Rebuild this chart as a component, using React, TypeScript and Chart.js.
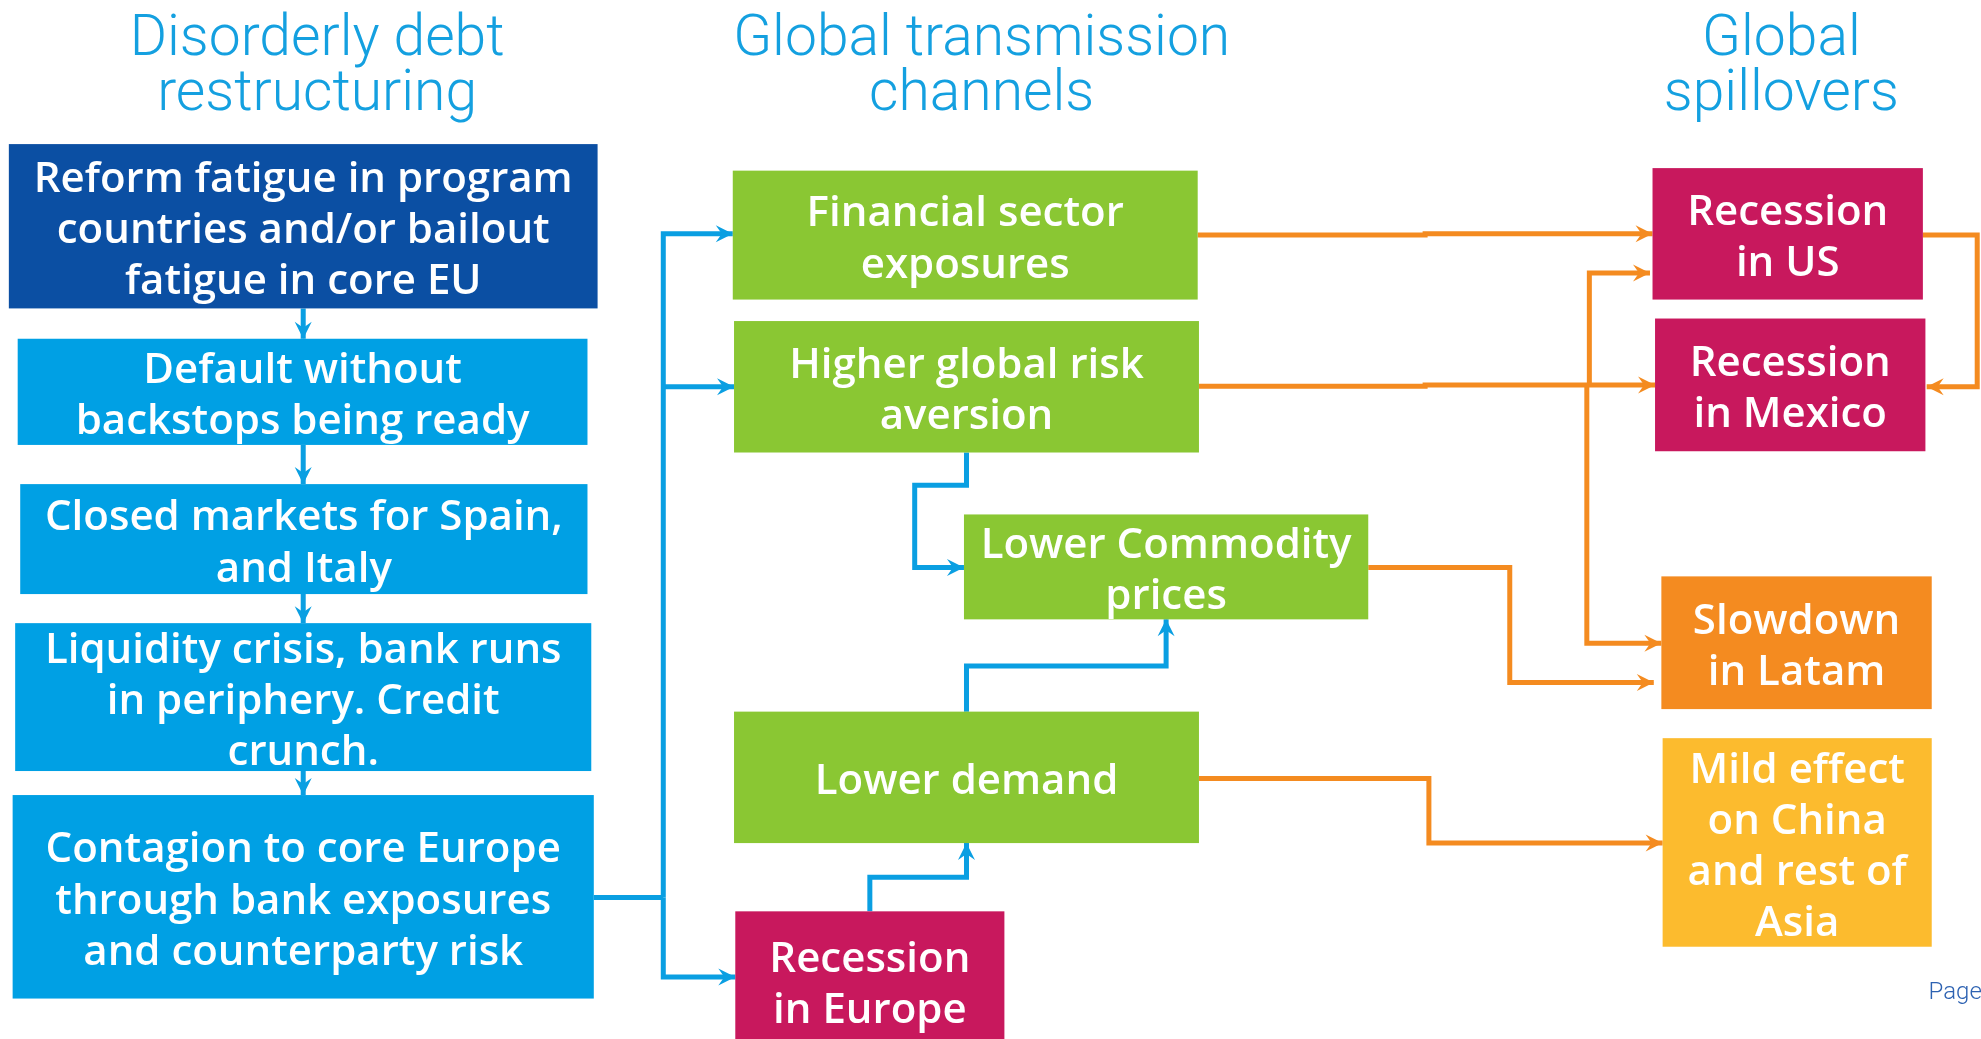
import React, { useEffect, useRef } from "react";
import { Chart, registerables } from "chart.js";

Chart.register(...registerables);

// ---- diagram space (units of the reference drawing) ----
const CANVAS_W = 1981;
const CANVAS_H = 1039;
const X_MAX = 1568;
const Y_MAX = 822;

// ---- column titles ----
const columnTitles: string[][] = [
  ["Disorderly debt", "restructuring"],
  ["Global transmission", "channels"],
  ["Global", "spillovers"],
];
const columnTitleX: number[] = [251, 777, 1410];
const titleBaselineY: number[] = [43.5, 87];

// ---- boxes ----
const boxLabels: string[][] = [
  ["Reform fatigue in program", "countries and/or bailout", "fatigue in core EU"],
  ["Default without", "backstops being ready"],
  ["Closed markets for Spain,", "and Italy"],
  ["Liquidity crisis, bank runs", "in periphery. Credit", "crunch."],
  ["Contagion to core Europe", "through bank exposures", "and counterparty risk"],
  ["Financial sector", "exposures"],
  ["Higher global risk", "aversion"],
  ["Lower Commodity", "prices"],
  ["Lower demand"],
  ["Recession", "in Europe"],
  ["Recession", "in US"],
  ["Recession", "in Mexico"],
  ["Slowdown", "in Latam"],
  ["Mild effect", "on China", "and rest of", "Asia"],
];
const boxLeft: number[] = [7, 14, 16, 12, 10, 580, 581, 763, 581, 582, 1308, 1310, 1315, 1316];
const boxRight: number[] = [473, 465, 465, 468, 470, 948, 949, 1083, 949, 795, 1522, 1524, 1529, 1529];
const boxTop: number[] = [114, 268, 383, 493, 629, 135, 254, 407, 563, 721, 133, 252, 456, 584];
const boxBottom: number[] = [244, 352, 470, 610, 790, 237, 358, 490, 667, 830, 237, 357, 561, 749];
const boxKind: string[] = [
  "trigger", "chain", "chain", "chain", "chain",
  "channel", "channel", "channel", "channel",
  "recession", "recession", "recession", "slowdown", "mild",
];

// ---- connectors (polylines in diagram units) ----
const connectorPaths: number[][][] = [
  [[240, 244], [240, 268]],
  [[240, 352], [240, 383]],
  [[240, 470], [240, 493]],
  [[240, 610], [240, 629]],
  [[470, 710], [525, 710]],
  [[525, 710], [525, 185], [580, 185]],
  [[525, 306], [581, 306]],
  [[525, 710], [525, 773], [582, 773]],
  [[765, 358], [765, 384], [724, 384], [724, 449], [763, 449]],
  [[765, 563], [765, 527], [923, 527], [923, 490]],
  [[688.5, 721], [688.5, 694], [765, 694], [765, 667]],
  [[948, 186], [1128, 186], [1128, 185], [1308, 185]],
  [[949, 305.5], [1128, 305.5], [1128, 304.5], [1310, 304.5]],
  [[1258, 305.5], [1258, 216], [1306, 216]],
  [[1256, 305.5], [1256, 509], [1315, 509]],
  [[1522, 186], [1565, 186], [1565, 306], [1525, 306]],
  [[1083, 449], [1195, 449], [1195, 540], [1309, 540]],
  [[949, 616], [1131, 616], [1131, 667], [1316, 667]],
];
const connectorKind: string[] = [
  "blue", "blue", "blue", "blue", "blue", "blue", "blue", "blue", "blue", "blue", "blue",
  "orange", "orange", "orange", "orange", "orange", "orange", "orange",
];
const connectorArrow: boolean[] = [
  true, true, true, true, false, true, true, true, true, true, true,
  true, true, true, true, true, true, true,
];

const pageLabel = "Page";

// ---- styles ----
const kindColors: Record<string, string> = {
  trigger: "#0B4FA3",
  chain: "#00A0E4",
  channel: "#8AC733",
  recession: "#C8185D",
  slowdown: "#F48B20",
  mild: "#FCBB2E",
};
const lineColors: Record<string, string> = {
  blue: "#0A9FE2",
  orange: "#F48B20",
};
const TITLE_COLOR = "#14A0E0";
const BOX_FONT_PX = 42;
const BOX_FONT = `600 ${BOX_FONT_PX}px 'Open Sans', 'Noto Sans', sans-serif`;
const TITLE_FONT = "300 57px Roboto, 'Open Sans', sans-serif";
const LINE_STEP = 40.5;

const flowPlugin = {
  id: "flowDiagram",
  afterDatasetsDraw(chart: any) {
    const { ctx } = chart;
    const xs = chart.scales.x;
    const ys = chart.scales.y;
    ctx.save();
    // boxes and their texts
    boxLabels.forEach((lines, i) => {
      const l = xs.getPixelForValue(boxLeft[i]);
      const r = xs.getPixelForValue(boxRight[i]);
      const t = ys.getPixelForValue(boxTop[i]);
      const b = ys.getPixelForValue(boxBottom[i]);
      ctx.fillStyle = kindColors[boxKind[i]];
      ctx.fillRect(l, t, r - l, b - t);
      ctx.fillStyle = "#ffffff";
      ctx.font = BOX_FONT;
      ctx.textAlign = "center";
      ctx.textBaseline = "alphabetic";
      const cx = xs.getPixelForValue((boxLeft[i] + boxRight[i]) / 2);
      const cyUnits = (boxTop[i] + boxBottom[i]) / 2 + 1.5;
      const n = lines.length;
      lines.forEach((s, j) => {
        const yy = ys.getPixelForValue(cyUnits + (j - (n - 1) / 2) * LINE_STEP);
        ctx.fillText(s, cx, yy + 0.357 * BOX_FONT_PX);
      });
    });
    // arrowheads
    chart.data.datasets.forEach((_ds: any, i: number) => {
      if (!connectorArrow[i]) return;
      const pts = chart.getDatasetMeta(i).data;
      const a = pts[pts.length - 2];
      const e = pts[pts.length - 1];
      const ang = Math.atan2(e.y - a.y, e.x - a.x);
      ctx.save();
      ctx.translate(e.x, e.y);
      ctx.rotate(ang);
      ctx.fillStyle = lineColors[connectorKind[i]];
      ctx.beginPath();
      ctx.moveTo(0, 0);
      ctx.lineTo(-17, -8.5);
      ctx.lineTo(-11, 0);
      ctx.lineTo(-17, 8.5);
      ctx.closePath();
      ctx.fill();
      ctx.restore();
    });
    ctx.restore();
  },
  afterDraw(chart: any) {
    const { ctx } = chart;
    const xs = chart.scales.x;
    const ys = chart.scales.y;
    ctx.save();
    ctx.fillStyle = TITLE_COLOR;
    ctx.font = TITLE_FONT;
    ctx.textAlign = "center";
    ctx.textBaseline = "alphabetic";
    columnTitles.forEach((lines, i) => {
      lines.forEach((s, j) => {
        ctx.fillText(s, xs.getPixelForValue(columnTitleX[i]), ys.getPixelForValue(titleBaselineY[j]));
      });
    });
    ctx.fillStyle = "#2D62B2";
    ctx.font = "300 24px Roboto, 'Open Sans', sans-serif";
    ctx.textAlign = "left";
    ctx.fillText(pageLabel, xs.getPixelForValue(1526.5), ys.getPixelForValue(790.5));
    ctx.restore();
  },
};

export default function App() {
  const canvasRef = useRef<HTMLCanvasElement | null>(null);

  useEffect(() => {
    const canvas = canvasRef.current;
    if (!canvas) return;
    const datasets = connectorPaths.map((path, i) => ({
      data: path.map(([x, y]) => ({ x, y })),
      showLine: true,
      borderColor: lineColors[connectorKind[i]],
      backgroundColor: lineColors[connectorKind[i]],
      borderWidth: 5,
      borderJoinStyle: "miter" as const,
      borderCapStyle: "butt" as const,
      pointRadius: 0,
      pointHoverRadius: 0,
      tension: 0,
      fill: false,
      clip: false as any,
    }));
    const chart = new Chart(canvas, {
      type: "scatter",
      data: { datasets },
      options: {
        animation: false,
        responsive: false,
        maintainAspectRatio: false,
        devicePixelRatio: 1,
        events: [],
        layout: { padding: 0 },
        plugins: {
          legend: { display: false },
          tooltip: { enabled: false },
          title: { display: false },
        },
        scales: {
          x: { type: "linear", min: 0, max: X_MAX, display: false },
          y: { type: "linear", min: 0, max: Y_MAX, reverse: true, display: false },
        },
      },
      plugins: [flowPlugin],
    });
    return () => chart.destroy();
  }, []);

  return (
    <div style={{ position: "fixed", left: 0, top: 0, width: CANVAS_W, height: CANVAS_H, background: "#ffffff" }}>
      <canvas ref={canvasRef} width={CANVAS_W} height={CANVAS_H} style={{ display: "block", width: CANVAS_W, height: CANVAS_H }} />
    </div>
  );
}
